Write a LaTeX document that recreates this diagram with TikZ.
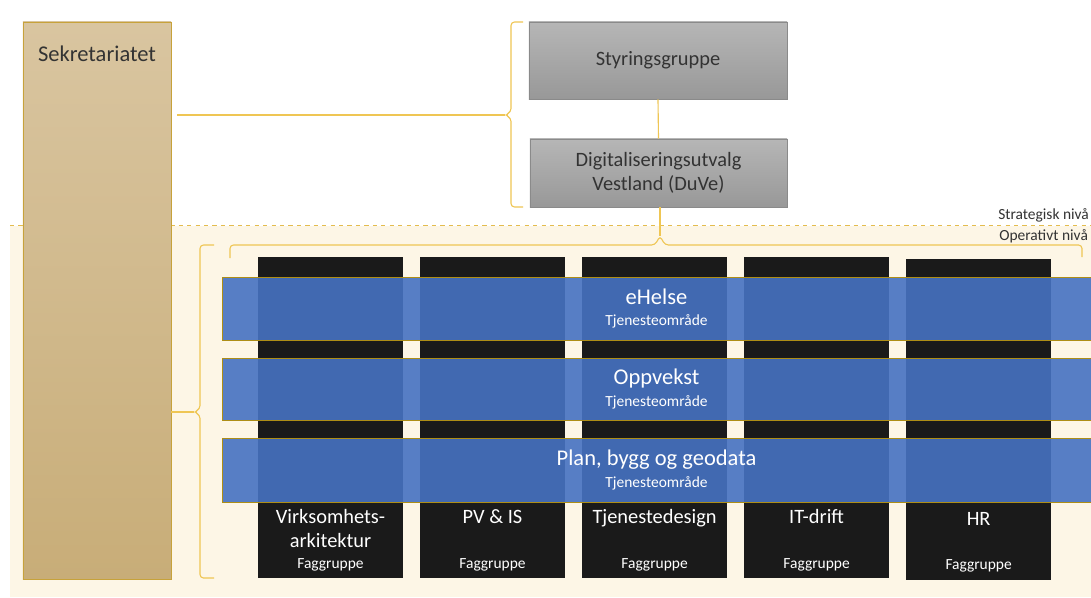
\documentclass[tikz,border=0pt]{standalone}
\usepackage{fontspec}
\setmainfont{Carlito}
\usetikzlibrary{positioning}

\definecolor{cream}{HTML}{FDF6E6}
\definecolor{goldline}{HTML}{EFC654}
\definecolor{dashgold}{HTML}{E3BC4E}
\definecolor{sekTop}{HTML}{D9C5A0}
\definecolor{sekBot}{HTML}{C8AD78}
\definecolor{sekEdge}{HTML}{C7A23A}
\definecolor{govTop}{HTML}{B6B6B6}
\definecolor{govBot}{HTML}{989898}
\definecolor{govEdge}{HTML}{8A8A8A}
\definecolor{fagblack}{HTML}{1A1A1A}
\definecolor{bandblue}{HTML}{4672C2}
\definecolor{bandedge}{HTML}{AE8E16}
\definecolor{darktext}{HTML}{333333}

\begin{document}
\begin{tikzpicture}[x=0.025cm,y=-0.025cm]
        \tikzstyle{sekbox} = [rectangle, draw=sekEdge, top color=sekTop, bottom color=sekBot, minimum width=3.7cm, minimum height=13.925cm, inner sep=0pt]
        \tikzstyle{govbox} = [rectangle, draw=govEdge, top color=govTop, bottom color=govBot, text=darktext, font=\fontsize{14.5}{17}\selectfont, align=center, inner sep=0pt]
        \tikzstyle{fagbox} = [rectangle, fill=fagblack, minimum width=3.625cm, minimum height=8.025cm, inner sep=0pt, node distance=4.05cm]
        \tikzstyle{fagtitle} = [anchor=base, text=white, align=center, font=\fontsize{14.5}{17}\selectfont, inner sep=0pt]
        \tikzstyle{fagsub} = [anchor=base, text=white, font=\fontsize{11}{13}\selectfont, inner sep=0pt]
        \tikzstyle{band} = [rectangle, draw=bandedge, fill=bandblue, fill opacity=0.9, text opacity=1, text=white, align=center, minimum width=21.725cm, inner sep=0pt]
        \tikzstyle{levellbl} = [anchor=base west, text=darktext, font=\fontsize{11}{13}\selectfont, inner sep=0pt]
        \tikzstyle{brace} = [goldline, line width=0.8pt, rounded corners=2.5pt]
        \tikzstyle{link} = [goldline, line width=0.8pt]
        \newcommand{\bandname}{\fontsize{16}{14.5}\selectfont}
        \newcommand{\bandsub}{\fontsize{11}{14.5}\selectfont}

                \clip (0,0) rectangle (1091,598);
                \fill[white] (0,0) rectangle (1091,598);
                \fill[cream] (10,226) rectangle (1091,597);
                \draw[dashgold, dashed, line width=0.5pt] (10,225) -- (1091,225);

                % strategisk nivaa
                \node (sek) [sekbox] at (97,300.5) {};
                \node (sektitle) [anchor=base, text=darktext, font=\fontsize{16}{19}\selectfont, inner sep=0pt] at ([yshift=-1cm]sek.north) {Sekretariatet};

                \node (styr) [govbox, minimum width=6.45cm, minimum height=1.925cm] at (658,60.5) {Styringsgruppe};
                \node (duve) [govbox, minimum width=6.425cm, minimum height=1.7cm] at (658.5,173) {Digitaliseringsutvalg\\Vestland (DuVe)};

                \draw[link] (styr.south) -- (duve.north);

                \coordinate (stratbrace) at (505,115);
                \draw[brace] (523,22) -- (511,22) -- (511,112) -- (stratbrace) -- (511,118) -- (511,207) -- (523,207);
                \draw[link] ([xshift=0.15cm]sek.east |- stratbrace) -- (stratbrace);

                % operativt nivaa
                \coordinate (opbrace) at (660,236);
                \draw[brace] (230,258) -- (230,245) -- (655,245) -- (opbrace) -- (665,245) -- (1082,245) -- (1082,257);
                \draw[link] (duve.south -| opbrace) -- (opbrace);

                \coordinate (sekbrace) at (194,412);
                \draw[brace] (214,245) -- (200,245) -- (200,409) -- (sekbrace) -- (200,415) -- (200,578) -- (214,578);
                \draw[link] (sek.east |- sekbrace) -- (sekbrace);

                \node (strat) [levellbl] at (998,219) {Strategisk nivå};
                \node (oper) [levellbl] at (999,240) {Operativt nivå};

                % faggrupper
                \node (col1) [fagbox] at (330.5,417.5) {};
                \node (col2) [fagbox, right of=col1] {};
                \node (col3) [fagbox, right of=col2] {};
                \node (col4) [fagbox, right of=col3] {};
                \node (col5) [fagbox, right of=col4, yshift=-0.04cm] {};

                % tjenesteomraader
                \node (b1) [band, minimum height=1.575cm] at (656.5,308.5) {\bandname eHelse\\[3.5pt]\bandsub Tjenesteområde};
                \node (b2) [band, minimum height=1.55cm] at (656.5,389) {\bandname Oppvekst\\[3.5pt]\bandsub Tjenesteområde};
                \node (b3) [band, minimum height=1.6cm] at (656.5,470) {\bandname Plan, bygg og geodata\\[3.5pt]\bandsub Tjenesteområde};

                \node (t1) [fagtitle] at ([yshift=0.775cm]col1.south) {Virksomhets-\\arkitektur};
                \node (t2) [fagtitle] at ([yshift=1.375cm]col2.south) {PV \& IS};
                \node (t3) [fagtitle] at ([yshift=1.375cm]col3.south) {Tjenestedesign};
                \node (t4) [fagtitle] at ([yshift=1.375cm]col4.south) {IT-drift};
                \node (t5) [fagtitle] at ([yshift=1.35cm]col5.south) {HR};

                \foreach \c in {1,...,5}
                        \node (f\c) [fagsub] at ([yshift=0.25cm]col\c.south) {Faggruppe};

    \end{tikzpicture}
\end{document}
